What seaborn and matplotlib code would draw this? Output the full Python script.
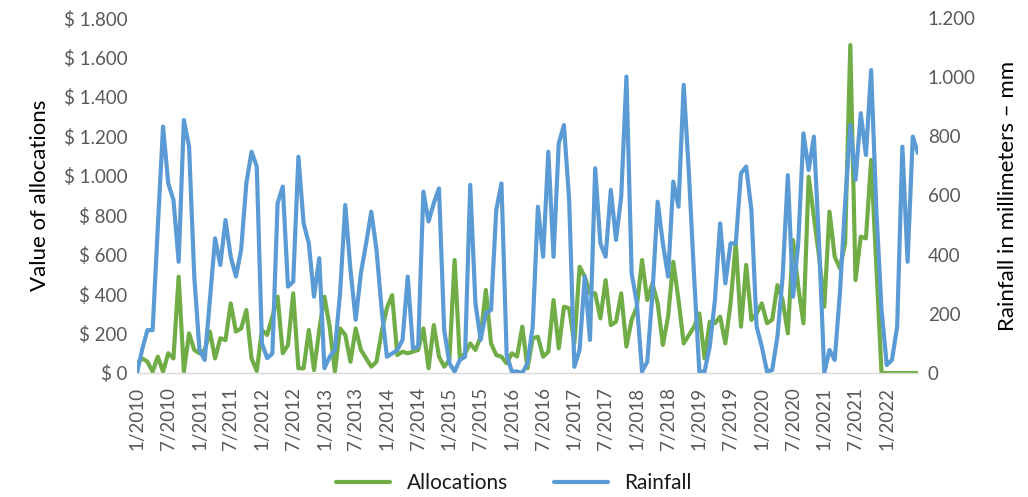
import pandas as pd
import matplotlib
matplotlib.use("Agg")
import matplotlib.pyplot as plt
import seaborn as sns
from matplotlib.ticker import FuncFormatter, MultipleLocator

# monthly values, 1/2010 .. 7/2022
allocations = [
    49, 74, 57, 7, 83, 7, 100, 74, 488, 7, 201, 117,
    100, 117, 210, 74, 176, 167, 353, 210, 226, 319, 74, 10,
    218, 193, 286, 387, 100, 142, 404, 24, 24, 218, 15, 218,
    387, 235, 7, 226, 193, 57, 226, 117, 74, 32, 57, 210,
    330, 395, 91, 108, 100, 108, 117, 226, 24, 243, 83, 32,
    66, 573, 74, 100, 150, 117, 184, 421, 150, 91, 83, 49,
    100, 83, 235, 24, 176, 184, 83, 108, 370, 125, 336, 328,
    150, 539, 488, 404, 404, 277, 471, 243, 260, 404, 134, 269,
    336, 573, 370, 455, 353, 142, 286, 564, 370, 150, 193, 235,
    302, 74, 260, 252, 286, 150, 353, 657, 235, 548, 269, 302,
    353, 252, 270, 446, 370, 201, 674, 438, 252, 995, 793, 590,
    336, 818, 590, 531, 657, 1663, 471, 691, 683, 1080, 539, 0,
    0, 0, 0, 0, 0, 0, 0,
]
rainfall = [
    0, 80, 145, 145, 495, 833, 641, 585, 376, 855, 765, 326,
    78, 44, 247, 455, 365, 517, 393, 326, 416, 641, 748, 698,
    100, 50, 66, 574, 630, 292, 309, 731, 506, 438, 258, 388,
    16, 55, 78, 269, 568, 348, 180, 337, 438, 545, 416, 213,
    55, 66, 78, 112, 326, 83, 89, 613, 512, 574, 624, 145,
    33, 5, 44, 55, 636, 236, 112, 202, 213, 551, 641, 61,
    5, 5, 0, 33, 157, 562, 393, 748, 393, 776, 838, 585,
    21, 78, 326, 112, 692, 438, 393, 619, 450, 596, 1002, 337,
    236, 5, 38, 269, 579, 438, 326, 647, 562, 974, 675, 326,
    5, 5, 89, 247, 506, 303, 438, 438, 675, 698, 551, 157,
    89, 5, 10, 123, 326, 669, 258, 438, 810, 686, 799, 438,
    0, 78, 44, 269, 574, 838, 653, 878, 737, 1024, 551, 213,
    27, 44, 157, 765, 376, 799, 743,
]
months = pd.date_range("2010-01-01", periods=len(rainfall), freq="MS")
tick_pos = list(range(0, 145, 6))
tick_labels = [f"{months[i].month}/{months[i].year}" for i in tick_pos]

df = pd.DataFrame({"idx": range(len(rainfall)),
                   "Allocations": allocations,
                   "Rainfall": rainfall})

green = "#70AD47"
blue = "#5B9BD5"
grey = "#595959"

sns.set_style("white")
plt.rcParams["font.family"] = ["Lato", "DejaVu Sans"]

fig, ax = plt.subplots(figsize=(10.28, 4.97), dpi=100)
fig.subplots_adjust(left=137 / 1028, right=918 / 1028, top=1 - 18 / 497, bottom=1 - 373 / 497)
ax2 = ax.twinx()

sns.lineplot(data=df, x="idx", y="Allocations", ax=ax, color=green, linewidth=3.0,
             label="Allocations", legend=False)
sns.lineplot(data=df, x="idx", y="Rainfall", ax=ax2, color=blue, linewidth=3.0,
             label="Rainfall", legend=False)

ax.set_ylim(0, 1800)
ax2.set_ylim(0, 1200)
ax.set_xlim(0, len(rainfall) - 1)
ax.yaxis.set_major_locator(MultipleLocator(200))
ax2.yaxis.set_major_locator(MultipleLocator(200))


def thousands(v):
    return f"{int(round(v)):,}".replace(",", ".")


ax.yaxis.set_major_formatter(FuncFormatter(lambda v, p: "$ " + thousands(v)))
ax2.yaxis.set_major_formatter(FuncFormatter(lambda v, p: thousands(v)))

ax.set_xticks(tick_pos)
ax.set_xticklabels(tick_labels, rotation=90)

for a in (ax, ax2):
    for s in a.spines.values():
        s.set_visible(False)
    a.tick_params(length=0, labelsize=13.5, colors=grey, pad=7)
ax.spines["bottom"].set_visible(True)
ax.spines["bottom"].set_color("#D9D9D9")
ax.spines["bottom"].set_linewidth(1.0)
ax.tick_params(axis="x", pad=10)

ax.set_xlabel("")
ax.set_ylabel("Value of allocations", fontsize=16, color="#000000", labelpad=10)
ax2.set_ylabel("Rainfall in millimeters \u2013 mm", fontsize=16, color="#000000", labelpad=16)

h1, l1 = ax.get_legend_handles_labels()
h2, l2 = ax2.get_legend_handles_labels()
fig.legend(h1 + h2, l1 + l2, loc="lower center", bbox_to_anchor=(0.5, -0.03), ncol=2,
           frameon=False, fontsize=15, handlelength=2.6, handletextpad=0.8,
           columnspacing=2.2, labelcolor="#1a1a1a")

fig.savefig("out.png", dpi=100)
